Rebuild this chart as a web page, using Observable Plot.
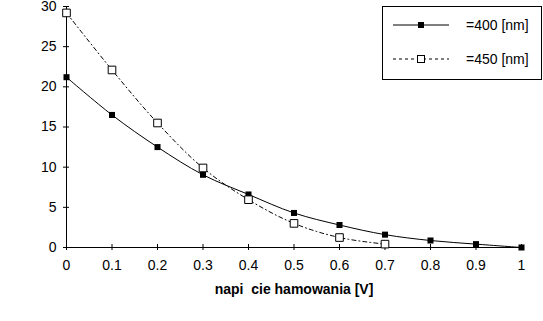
<!DOCTYPE html>
<html>
<head>
<meta charset="utf-8">
<script src="https://cdn.jsdelivr.net/npm/d3@7"></script>
<script src="https://cdn.jsdelivr.net/npm/@observablehq/plot@0.6"></script>
<style>
  html, body { margin: 0; padding: 0; background: #fff; }
  svg { display: block; }
</style>
</head>
<body>
<div id="chart"></div>
<script>
const voltage400 = [0, 0.1, 0.2, 0.3, 0.4, 0.5, 0.6, 0.7, 0.8, 0.9, 1.0];
const current400 = [21.2, 16.5, 12.5, 9.05, 6.6, 4.3, 2.8, 1.6, 0.87, 0.42, 0.0];
const voltage450 = [0, 0.1, 0.2, 0.3, 0.4, 0.5, 0.6, 0.7];
const current450 = [29.2, 22.1, 15.5, 9.9, 5.95, 3.0, 1.24, 0.42];
const xTicks = [0, 0.1, 0.2, 0.3, 0.4, 0.5, 0.6, 0.7, 0.8, 0.9, 1];
const yTicks = [0, 5, 10, 15, 20, 25, 30];
const seriesLabels = ["=400 [nm]", "=450 [nm]"];
const xLabel = "napi\u00a0\u00a0cie hamowania [V]";

const s400 = voltage400.map((x, i) => ({x, y: current400[i]}));
const s450 = voltage450.map((x, i) => ({x, y: current450[i]}));

const font = "'Liberation Sans', Arial, sans-serif";

const plot = Plot.plot({
  width: 543,
  height: 321,
  marginLeft: 66,
  marginRight: 22,
  marginTop: 6,
  marginBottom: 74,
  style: {fontFamily: font, fontSize: "14px", color: "#000", background: "#fff", overflow: "visible"},
  x: {domain: [0, 1], ticks: xTicks, label: null},
  y: {domain: [0, 30], ticks: yTicks, label: null},
  marks: [
    Plot.ruleX([0], {stroke: "#000", strokeWidth: 1}),
    Plot.ruleY([0], {stroke: "#000", strokeWidth: 1}),
    Plot.axisX({ticks: xTicks, tickSize: 6, dy: -3, text: null, label: null, stroke: "#000"}),
    Plot.axisX({ticks: xTicks, tickSize: 0, tickPadding: 13, label: null, fill: "#000", fontSize: 14, tickFormat: d => String(d)}),
    Plot.axisY({ticks: yTicks, tickSize: 6, dx: 3, text: null, label: null, stroke: "#000"}),
    Plot.axisY({ticks: yTicks, tickSize: 0, tickPadding: 10, label: null, fill: "#000", fontSize: 14}),
    Plot.line(s450, {x: "x", y: "y", curve: "catmull-rom", stroke: "#000", strokeWidth: 1, strokeDasharray: "4,3,1,3"}),
    Plot.line(s400, {x: "x", y: "y", curve: "catmull-rom", stroke: "#000", strokeWidth: 1}),
    Plot.dot(s400, {x: "x", y: "y", symbol: "square", r: 3.4, fill: "#000", stroke: "none"}),
    Plot.dot(s450, {x: "x", y: "y", symbol: "square", r: 4.3, fill: "#fff", stroke: "#000", strokeWidth: 1}),
    Plot.text([xLabel], {frameAnchor: "bottom", dy: 46, text: d => d, fontWeight: "bold", fontSize: 14, fill: "#000"})
  ]
});

const svg = d3.select(plot);
const lg = svg.append("g").attr("font-family", font).attr("font-size", 14).attr("text-anchor", "start");
lg.append("rect").attr("x", 382.5).attr("y", 6.5).attr("width", 159).attr("height", 73)
  .attr("fill", "#fff").attr("stroke", "#000").attr("stroke-width", 1);
const rows = [25, 59];
lg.append("line").attr("x1", 393).attr("x2", 449).attr("y1", rows[0]).attr("y2", rows[0]).attr("stroke", "#000");
lg.append("rect").attr("x", 418).attr("y", rows[0] - 3).attr("width", 6).attr("height", 6).attr("fill", "#000");
lg.append("line").attr("x1", 393).attr("x2", 449).attr("y1", rows[1]).attr("y2", rows[1]).attr("stroke", "#000").attr("stroke-dasharray", "3,3");
lg.append("rect").attr("x", 417.5).attr("y", rows[1] - 3.5).attr("width", 7).attr("height", 7).attr("fill", "#fff").attr("stroke", "#000");
seriesLabels.forEach((t, i) => {
  lg.append("text").attr("x", 466).attr("y", rows[i]).attr("dy", "0.35em").attr("fill", "#000").text(t);
});

document.getElementById("chart").appendChild(plot);
</script>
</body>
</html>
